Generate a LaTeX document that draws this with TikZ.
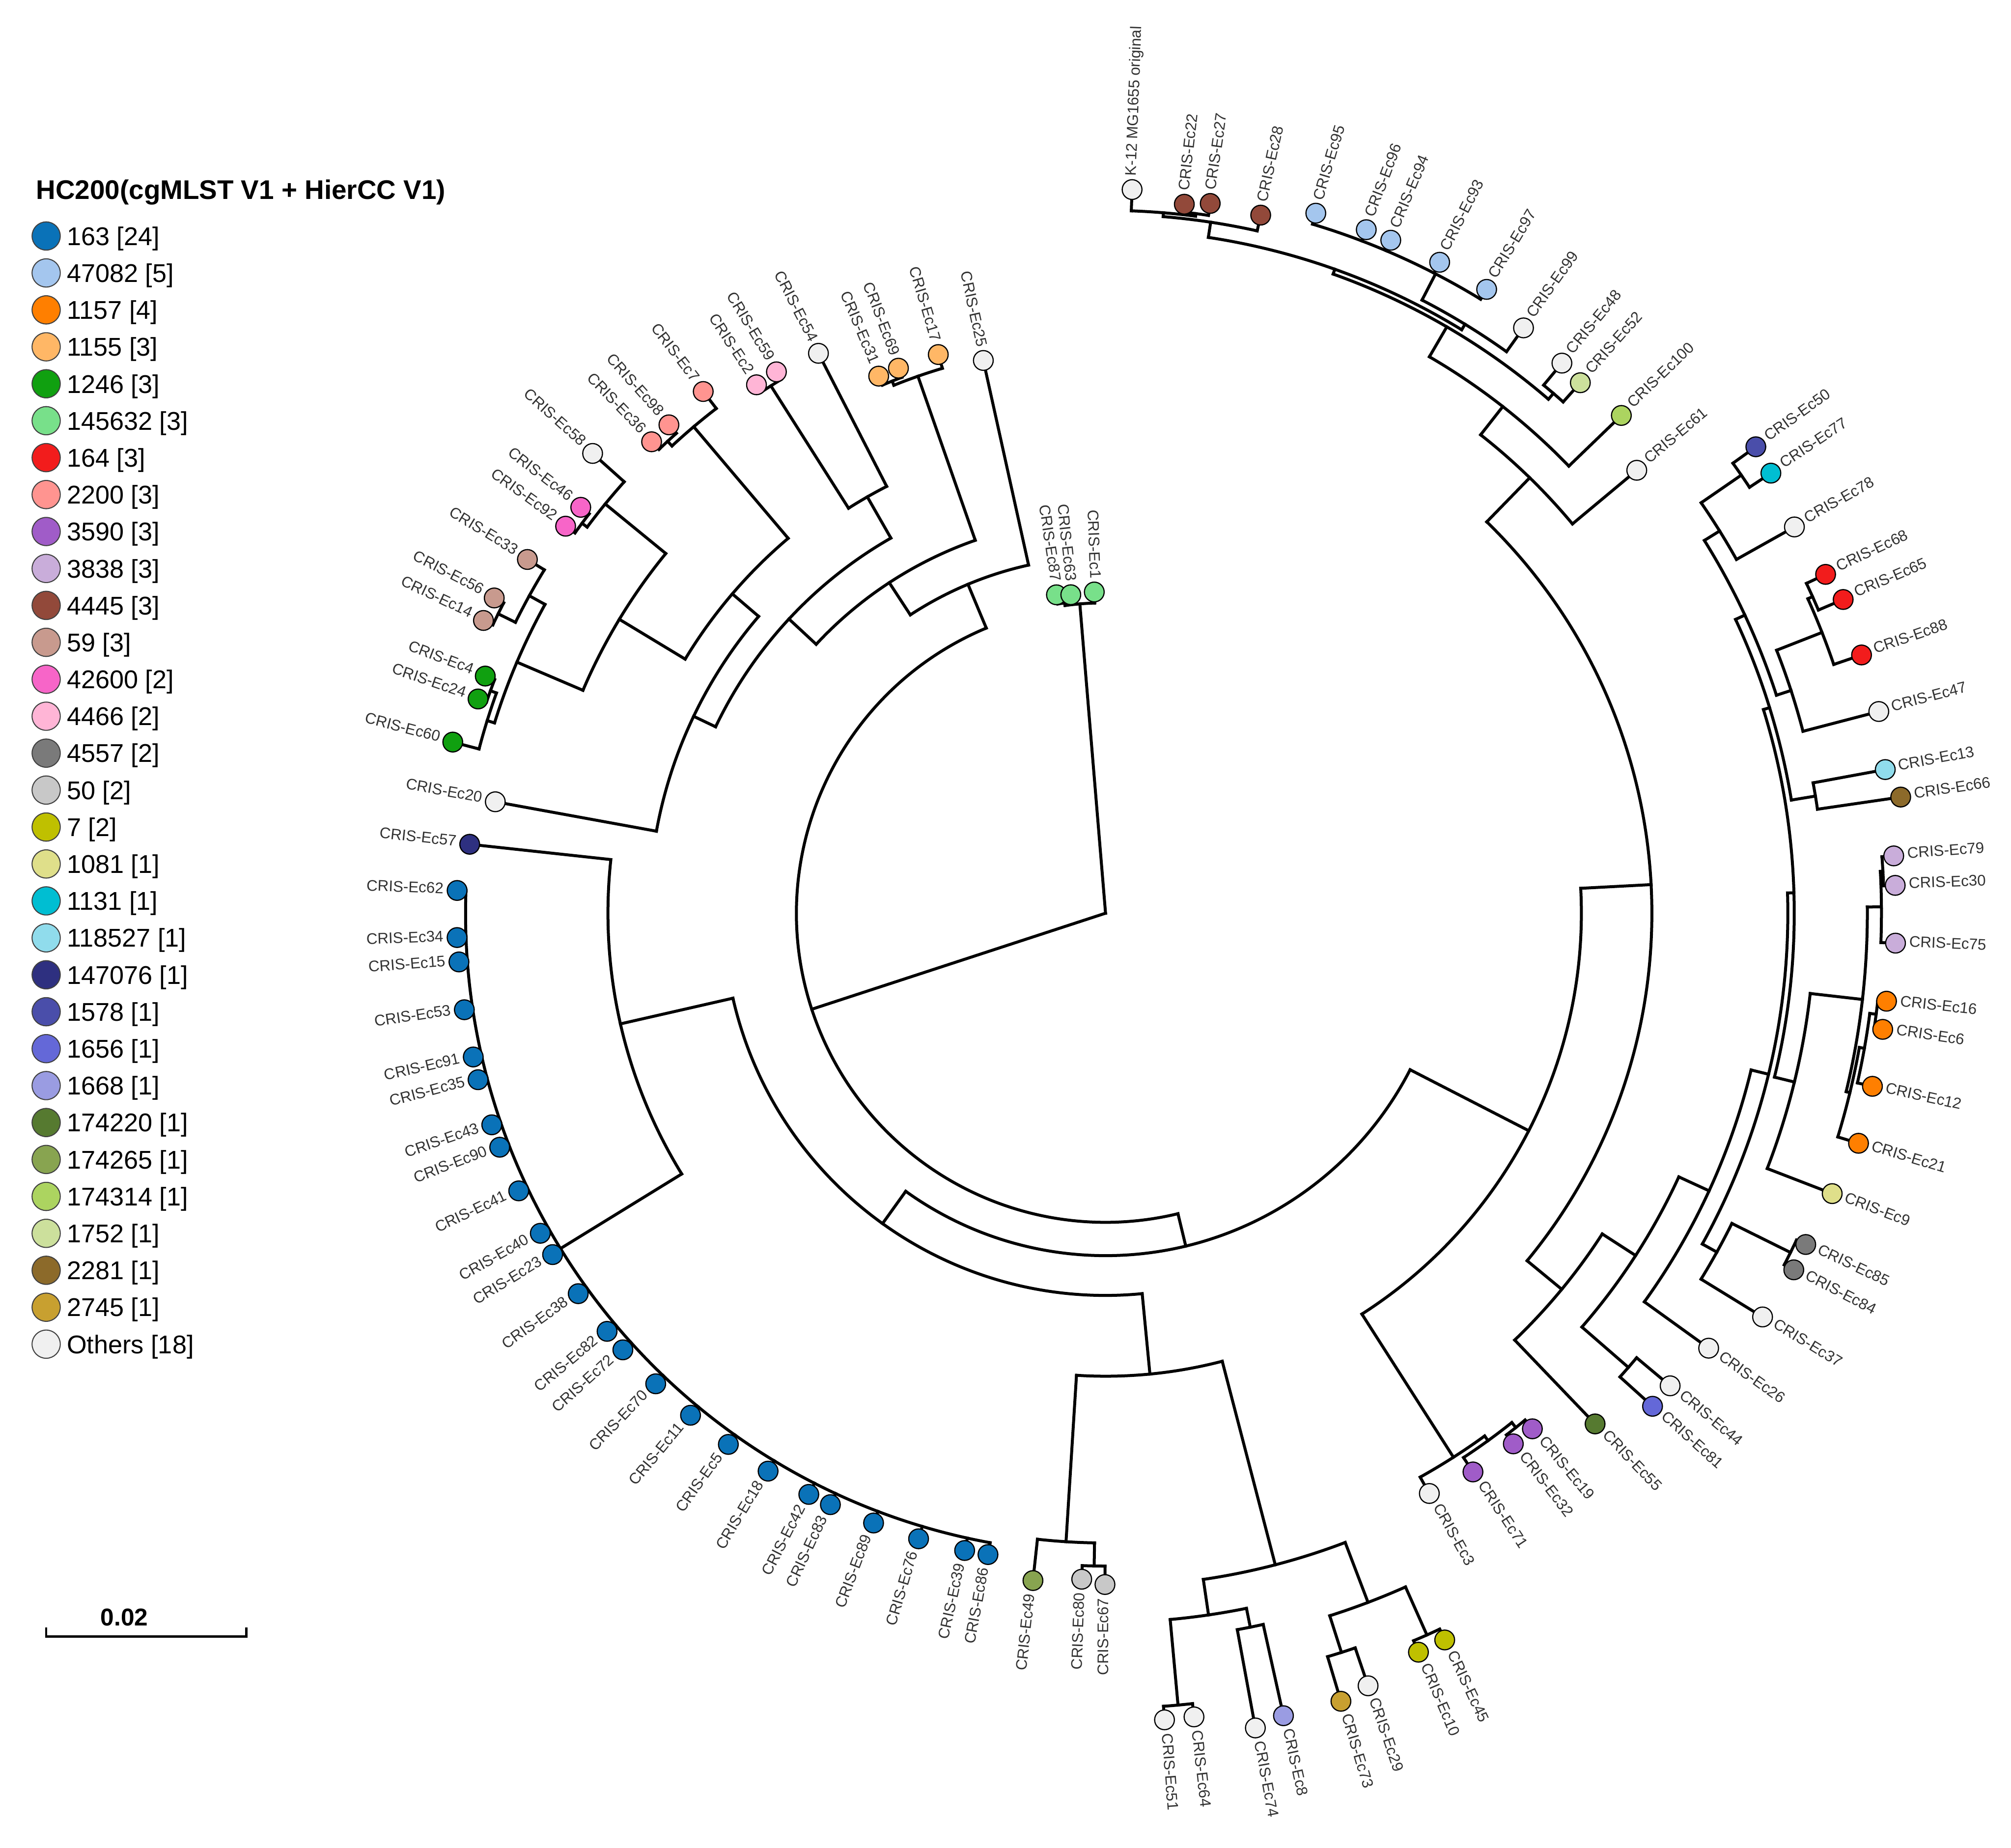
\documentclass[tikz,border=0pt]{standalone}
\usepackage{fontspec}
\setmainfont{Liberation Sans}
\pgfdeclarelayer{fg}
\pgfsetlayers{main,fg}
\definecolor{c163}{HTML}{0A72B8}
\definecolor{c47082}{HTML}{A4C6EE}
\definecolor{c1157}{HTML}{FF7F00}
\definecolor{c1155}{HTML}{FFB766}
\definecolor{c1246}{HTML}{10A010}
\definecolor{c145632}{HTML}{78E08A}
\definecolor{c164}{HTML}{F21C1C}
\definecolor{c2200}{HTML}{FF9490}
\definecolor{c3590}{HTML}{A05CC8}
\definecolor{c3838}{HTML}{C9ADDA}
\definecolor{c4445}{HTML}{92493A}
\definecolor{c59}{HTML}{C89A8E}
\definecolor{c42600}{HTML}{F765C8}
\definecolor{c4466}{HTML}{FFB5D6}
\definecolor{c4557}{HTML}{7A7A7A}
\definecolor{c50}{HTML}{C8C8C8}
\definecolor{c7}{HTML}{BFC000}
\definecolor{c1081}{HTML}{DFDF8A}
\definecolor{c1131}{HTML}{00BED2}
\definecolor{c118527}{HTML}{90DCEC}
\definecolor{c147076}{HTML}{2E3080}
\definecolor{c1578}{HTML}{4A4EAA}
\definecolor{c1656}{HTML}{6468D8}
\definecolor{c1668}{HTML}{9A9CE2}
\definecolor{c174220}{HTML}{567A30}
\definecolor{c174265}{HTML}{88A450}
\definecolor{c174314}{HTML}{ACD460}
\definecolor{c1752}{HTML}{CCE09C}
\definecolor{c2281}{HTML}{8C6A2A}
\definecolor{c2745}{HTML}{C8A030}
\definecolor{cOth}{HTML}{F0F0F0}
\definecolor{labc}{RGB}{50,50,50}
\tikzset{
  br/.style={line width=2.3pt, line cap=rect},
  leaf/.style={circle, draw=black, line width=0.9pt, minimum size=15.4pt, inner sep=0pt},
  lab/.style={font=\fontsize{12}{12}\selectfont, text=labc, inner sep=0pt},
  legc/.style={circle, draw={black!75}, line width=0.8pt, minimum size=22pt, inner sep=0pt},
  legt/.style={font=\fontsize{20}{20}\selectfont, anchor=base west, inner sep=0pt},
}
% internal node: name, angle, r parent, r, arc from, arc to
\newcommand\TNode[6]{%
  \coordinate (#1) at (#2:#4);
  \draw[br] (#2:#3) -- (#1);
  \draw[br] (#5:#4) arc[start angle=#5, end angle=#6, radius=#4pt];}
% leaf: name, angle, r parent, r leaf, colour, text
\newcommand\TLeaf[6]{%
  \begin{pgfonlayer}{fg}\node[leaf,fill=#5] (#1) at (#2:#4) {};\end{pgfonlayer}
  \draw[br] (#2:#3) -- (#1.center);
  \pgfmathtruncatemacro\rside{cos(#2)>0}%
  \pgfmathsetmacro\lrad{#4+10.5}%
  \ifnum\rside=1
    \node[lab,rotate=#2,anchor=mid west] (#1-t) at (#2:\lrad) {#6};
  \else
    \pgfmathsetmacro\lrot{#2+180}%
    \node[lab,rotate=\lrot,anchor=mid east] (#1-t) at (#2:\lrad) {#6};
  \fi}
\begin{document}
\begin{tikzpicture}[x=1pt,y=1pt]
\useasboundingbox (0,0) rectangle (1568,-1440.8);
% ---------------- legend ----------------
\node[anchor=west,inner sep=0pt,font=\bfseries\fontsize{21}{21}\selectfont] (title) at (28,-150) {HC200(cgMLST V1 + HierCC V1)};
\foreach \c/\t [count=\i from 0] in {c163/{163 [24]},c47082/{47082 [5]},c1157/{1157 [4]},c1155/{1155 [3]},c1246/{1246 [3]},c145632/{145632 [3]},c164/{164 [3]},c2200/{2200 [3]},c3590/{3590 [3]},c3838/{3838 [3]},c4445/{4445 [3]},c59/{59 [3]},c42600/{42600 [2]},c4466/{4466 [2]},c4557/{4557 [2]},c50/{50 [2]},c7/{7 [2]},c1081/{1081 [1]},c1131/{1131 [1]},c118527/{118527 [1]},c147076/{147076 [1]},c1578/{1578 [1]},c1656/{1656 [1]},c1668/{1668 [1]},c174220/{174220 [1]},c174265/{174265 [1]},c174314/{174314 [1]},c1752/{1752 [1]},c2281/{2281 [1]},c2745/{2745 [1]},cOth/{Others [18]}}{
  \node[legc,fill=\c] (lg\i) at (36,{-184-28.8*\i}) {};
  \node[legt] (lt\i) at (52,{-191.2-28.8*\i}) {\t};
}
% scale bar
\draw[line width=1.8pt] (36,-1269) -- (36,-1276) -- (192,-1276) -- (192,-1269);
\node[inner sep=0pt,font=\bfseries\fontsize{19}{19}\selectfont] (sbar) at (97,-1261) {0.02};
% ---------------- tree ----------------
\begin{scope}[shift={(862,-712)}]
\coordinate (root) at (0,0);
\TNode{A}{94.75}{0}{242}{92.01}{97.50}
\TNode{PA}{97.50}{242}{244}{96.23}{98.77}
\TNode{B}{198.1}{0}{241}{112.7}{283.55}
\TNode{Ntop}{112.7}{241}{278}{102.47}{123.2}
\TNode{Nx}{123.2}{278}{308}{109.26}{137.1}
\TNode{G1155}{109.26}{308}{443.5}{106.67}{111.85}
\TNode{P3169}{111.85}{443.5}{447}{110.81}{112.90}
\TNode{Ny}{137.1}{308}{337}{119.78}{154.45}
\TNode{Nw}{119.78}{337}{374}{117.15}{122.4}
\TNode{P259}{122.4}{374}{487}{121.30}{123.45}
\TNode{Nz}{154.45}{337}{356}{139.45}{169.65}
\TNode{Nv}{139.45}{356}{383}{130.25}{148.85}
\TNode{Salm}{130.25}{383}{497}{127.64}{132.86}
\TNode{P3698}{132.86}{497}{502}{131.80}{133.92}
\TNode{Nu}{148.85}{383}{443}{140.72}{156.9}
\TNode{N58p}{140.72}{443}{504}{138.13}{143.32}
\TNode{P9246}{143.32}{504}{509}{142.28}{144.37}
\TNode{Nt}{156.9}{443}{499}{151.15}{162.7}
\TNode{Tan}{151.15}{499}{513}{148.54}{153.76}
\TNode{P1456}{153.76}{513}{528}{152.72}{154.80}
\TNode{Grn}{162.7}{499}{505}{160.12}{165.31}
\TNode{P244}{160.12}{505}{510}{159.08}{161.15}
\TNode{Nbig}{283.55}{241}{267}{234.3}{332.8}
\TNode{NL}{234.3}{267}{298}{192.85}{275.5}
\TNode{NK}{192.85}{298}{388}{174.1}{211.6}
\TNode{Blue}{211.6}{388}{499}{177.99}{259.61}
\TNode{Nbot}{275.5}{298}{361}{266.4}{284.6}
\TNode{G50}{266.4}{361}{491}{263.79}{269.0}
\TNode{P8067}{269.0}{491}{509}{267.95}{269.95}
\TNode{Nb2}{284.6}{361}{525}{278.35}{290.85}
\TNode{Nb3}{278.35}{525}{553}{275.23}{281.46}
\TNode{P5164}{275.23}{553}{620}{274.18}{276.28}
\TNode{P748}{281.46}{553}{568}{280.42}{282.50}
\TNode{Nb4}{290.85}{525}{575}{287.7}{294.0}
\TNode{P7329}{287.7}{575}{605}{286.63}{288.77}
\TNode{P4510}{294.0}{575}{616}{292.95}{295.02}
\TNode{NR}{-27.2}{267}{371}{-57.4}{3.0}
\TNode{Npurp}{-57.4}{371}{503.5}{-60.84}{-54.05}
\TNode{Purp}{-54.05}{503.5}{508}{-56.67}{-51.42}
\TNode{P1932}{-51.42}{508}{513}{-52.46}{-50.38}
\TNode{Nup}{3.0}{371}{426}{-39.5}{45.75}
\TNode{Nlr}{-39.5}{426}{461}{-46.21}{-32.85}
\TNode{Nq}{-32.85}{461}{492}{-40.98}{-24.7}
\TNode{P4481}{-40.98}{492}{540}{-42.03}{-39.93}
\TNode{Nb}{-24.7}{492}{518}{-35.80}{-13.65}
\TNode{Nc}{-13.65}{518}{532}{-29.0}{1.7}
\TNode{Np}{-29.0}{532}{545}{-31.57}{-26.35}
\TNode{P8584}{-26.35}{545}{596}{-27.39}{-25.32}
\TNode{Nd}{1.7}{532}{537}{-13.77}{17.2}
\TNode{Ncp}{-13.77}{537}{553}{-21.10}{-6.5}
\TNode{Nlo}{-6.5}{553}{594}{-13.55}{0.47}
\TNode{O}{-13.55}{594}{597}{-16.99}{-10.1}
\TNode{O2}{-10.1}{597}{601}{-12.72}{-7.47}
\TNode{P166}{-7.47}{601}{606}{-8.50}{-6.43}
\TNode{Lil}{0.47}{594}{605}{-2.17}{3.09}
\TNode{P7930}{3.09}{605}{607}{2.02}{4.16}
\TNode{Ne}{17.2}{537}{542}{9.37}{25.0}
\TNode{P1366}{9.37}{542}{561}{8.31}{10.44}
\TNode{Nf}{25.0}{542}{550}{18.0}{31.9}
\TNode{Nj}{18.0}{550}{562}{14.62}{21.4}
\TNode{Red}{21.4}{562}{600}{18.86}{24.12}
\TNode{P6865}{24.12}{600}{604}{23.04}{25.20}
\TNode{Ng}{31.9}{550}{564}{29.28}{34.57}
\TNode{P5077}{34.57}{564}{602}{33.48}{35.65}
\TNode{Nur}{45.75}{426}{474}{39.82}{51.9}
\TNode{Ns}{51.9}{474}{502}{43.98}{59.8}
\TNode{Nr}{59.8}{502}{529}{49.25}{70.4}
\TNode{P4852}{49.25}{529}{535}{48.17}{50.32}
\TNode{Nrp}{70.4}{529}{533}{58.6}{81.35}
\TNode{Nm}{58.6}{533}{538}{54.47}{62.7}
\TNode{G47}{62.7}{538}{561}{58.58}{73.28}
\TNode{Nk}{81.35}{533}{545}{77.47}{85.27}
\TNode{X}{85.27}{545}{548}{82.64}{87.90}
\TNode{BP}{82.64}{548}{550}{81.61}{83.66}
% leaves
\TLeaf{k12}{87.90}{548}{564.6}{cOth}{K-12 MG1655 original}
\TLeaf{ec22}{83.66}{550}{556.2}{c4445}{CRIS-Ec22}
\TLeaf{ec27}{81.61}{550}{559.4}{c4445}{CRIS-Ec27}
\TLeaf{ec28}{77.47}{545}{557.6}{c4445}{CRIS-Ec28}
\TLeaf{ec95}{73.28}{561}{569.9}{c47082}{CRIS-Ec95}
\TLeaf{ec96}{69.12}{561}{570.4}{c47082}{CRIS-Ec96}
\TLeaf{ec94}{67.03}{561}{569.9}{c47082}{CRIS-Ec94}
\TLeaf{ec93}{62.83}{561}{570.5}{c47082}{CRIS-Ec93}
\TLeaf{ec97}{58.58}{561}{570.0}{c47082}{CRIS-Ec97}
\TLeaf{ec99}{54.47}{538}{560.8}{cOth}{CRIS-Ec99}
\TLeaf{ec48}{50.32}{535}{557.3}{cOth}{CRIS-Ec48}
\TLeaf{ec52}{48.17}{535}{555.1}{c1752}{CRIS-Ec52}
\TLeaf{ec100}{43.98}{502}{558.9}{c174314}{CRIS-Ec100}
\TLeaf{ec61}{39.82}{474}{539.3}{cOth}{CRIS-Ec61}
\TLeaf{ec50}{35.65}{602}{624.0}{c1578}{CRIS-Ec50}
\TLeaf{ec77}{33.48}{602}{622.0}{c1131}{CRIS-Ec77}
\TLeaf{ec78}{29.28}{564}{615.8}{cOth}{CRIS-Ec78}
\TLeaf{ec68}{25.20}{604}{620.5}{c164}{CRIS-Ec68}
\TLeaf{ec65}{23.04}{604}{625.0}{c164}{CRIS-Ec65}
\TLeaf{ec88}{18.86}{600}{622.9}{c164}{CRIS-Ec88}
\TLeaf{ec47}{14.62}{562}{623.1}{cOth}{CRIS-Ec47}
\TLeaf{ec13}{10.44}{561}{618.2}{c118527}{CRIS-Ec13}
\TLeaf{ec66}{8.31}{561}{626.6}{c2281}{CRIS-Ec66}
\TLeaf{ec79}{4.16}{607}{616.2}{c3838}{CRIS-Ec79}
\TLeaf{ec30}{2.02}{607}{616.1}{c3838}{CRIS-Ec30}
\TLeaf{ec75}{-2.17}{605}{616.4}{c3838}{CRIS-Ec75}
\TLeaf{ec16}{-6.43}{606}{612.8}{c1157}{CRIS-Ec16}
\TLeaf{ec6}{-8.50}{606}{612.7}{c1157}{CRIS-Ec6}
\TLeaf{ec12}{-12.72}{601}{613.0}{c1157}{CRIS-Ec12}
\TLeaf{ec21}{-16.99}{597}{613.9}{c1157}{CRIS-Ec21}
\TLeaf{ec9}{-21.10}{553}{607.3}{c1081}{CRIS-Ec9}
\TLeaf{ec85}{-25.32}{596}{604.0}{c4557}{CRIS-Ec85}
\TLeaf{ec84}{-27.39}{596}{604.4}{c4557}{CRIS-Ec84}
\TLeaf{ec37}{-31.57}{545}{601.3}{cOth}{CRIS-Ec37}
\TLeaf{ec26}{-35.80}{518}{579.8}{cOth}{CRIS-Ec26}
\TLeaf{ec44}{-39.93}{540}{574.1}{cOth}{CRIS-Ec44}
\TLeaf{ec81}{-42.03}{540}{574.2}{c1656}{CRIS-Ec81}
\TLeaf{ec55}{-46.21}{461}{551.6}{c174220}{CRIS-Ec55}
\TLeaf{ec19}{-50.38}{513}{521.9}{c3590}{CRIS-Ec19}
\TLeaf{ec32}{-52.46}{513}{521.8}{c3590}{CRIS-Ec32}
\TLeaf{ec71}{-56.67}{508}{521.4}{c3590}{CRIS-Ec71}
\TLeaf{ec3}{-60.84}{503.5}{518.1}{cOth}{CRIS-Ec3}
\TLeaf{ec45}{-64.98}{616}{625.3}{c7}{CRIS-Ec45}
\TLeaf{ec10}{-67.05}{616}{625.7}{c7}{CRIS-Ec10}
\TLeaf{ec29}{-71.23}{605}{636.2}{cOth}{CRIS-Ec29}
\TLeaf{ec73}{-73.37}{605}{641.3}{c2745}{CRIS-Ec73}
\TLeaf{ec8}{-77.50}{568}{640.9}{c1668}{CRIS-Ec8}
\TLeaf{ec74}{-79.58}{568}{645.9}{cOth}{CRIS-Ec74}
\TLeaf{ec64}{-83.72}{620}{630.4}{cOth}{CRIS-Ec64}
\TLeaf{ec51}{-85.82}{620}{630.6}{cOth}{CRIS-Ec51}
\TLeaf{ec67}{-90.05}{509}{523.4}{c50}{CRIS-Ec67}
\TLeaf{ec80}{-92.05}{509}{519.6}{c50}{CRIS-Ec80}
\TLeaf{ec49}{-96.21}{491}{523.4}{c174265}{CRIS-Ec49}
\TLeaf{ec86}{259.61}{499}{508.4}{c163}{CRIS-Ec86}
\TLeaf{ec39}{257.53}{499}{508.9}{c163}{CRIS-Ec39}
\TLeaf{ec76}{253.36}{499}{509.1}{c163}{CRIS-Ec76}
\TLeaf{ec89}{249.17}{499}{508.7}{c163}{CRIS-Ec89}
\TLeaf{ec83}{245.05}{499}{508.6}{c163}{CRIS-Ec83}
\TLeaf{ec42}{242.95}{499}{508.8}{c163}{CRIS-Ec42}
\TLeaf{ec18}{238.83}{499}{508.4}{c163}{CRIS-Ec18}
\TLeaf{ec5}{234.62}{499}{508.0}{c163}{CRIS-Ec5}
\TLeaf{ec11}{230.42}{499}{507.9}{c163}{CRIS-Ec11}
\TLeaf{ec70}{226.29}{499}{507.6}{c163}{CRIS-Ec70}
\TLeaf{ec72}{222.13}{499}{507.5}{c163}{CRIS-Ec72}
\TLeaf{ec82}{219.99}{499}{507.3}{c163}{CRIS-Ec82}
\TLeaf{ec38}{215.81}{499}{507.0}{c163}{CRIS-Ec38}
\TLeaf{ec23}{211.69}{499}{506.7}{c163}{CRIS-Ec23}
\TLeaf{ec40}{209.52}{499}{506.5}{c163}{CRIS-Ec40}
\TLeaf{ec41}{205.32}{499}{506.2}{c163}{CRIS-Ec41}
\TLeaf{ec90}{201.12}{499}{506.4}{c163}{CRIS-Ec90}
\TLeaf{ec43}{199.02}{499}{506.2}{c163}{CRIS-Ec43}
\TLeaf{ec35}{194.86}{499}{506.2}{c163}{CRIS-Ec35}
\TLeaf{ec91}{192.81}{499}{505.6}{c163}{CRIS-Ec91}
\TLeaf{ec53}{188.56}{499}{505.6}{c163}{CRIS-Ec53}
\TLeaf{ec15}{184.31}{499}{505.6}{c163}{CRIS-Ec15}
\TLeaf{ec34}{182.15}{499}{506.0}{c163}{CRIS-Ec34}
\TLeaf{ec62}{177.99}{499}{505.9}{c163}{CRIS-Ec62}
\TLeaf{ec57}{173.81}{388}{498.7}{c147076}{CRIS-Ec57}
\TLeaf{ec20}{169.65}{356}{483.7}{cOth}{CRIS-Ec20}
\TLeaf{ec60}{165.31}{505}{526.2}{c1246}{CRIS-Ec60}
\TLeaf{ec24}{161.15}{510}{517.0}{c1246}{CRIS-Ec24}
\TLeaf{ec4}{159.08}{510}{517.8}{c1246}{CRIS-Ec4}
\TLeaf{ec14}{154.80}{528}{536.1}{c59}{CRIS-Ec14}
\TLeaf{ec56}{152.72}{528}{536.3}{c59}{CRIS-Ec56}
\TLeaf{ec33}{148.54}{513}{528.5}{c59}{CRIS-Ec33}
\TLeaf{ec92}{144.37}{509}{518.0}{c42600}{CRIS-Ec92}
\TLeaf{ec46}{142.28}{509}{517.3}{c42600}{CRIS-Ec46}
\TLeaf{ec58}{138.13}{504}{537.1}{cOth}{CRIS-Ec58}
\TLeaf{ec36}{133.92}{502}{510.3}{c2200}{CRIS-Ec36}
\TLeaf{ec98}{131.80}{502}{510.8}{c2200}{CRIS-Ec98}
\TLeaf{ec7}{127.64}{497}{513.7}{c2200}{CRIS-Ec7}
\TLeaf{ec2}{123.45}{487}{493.8}{c4466}{CRIS-Ec2}
\TLeaf{ec59}{121.30}{487}{494.0}{c4466}{CRIS-Ec59}
\TLeaf{ec54}{117.15}{374}{490.6}{cOth}{CRIS-Ec54}
\TLeaf{ec31}{112.90}{447}{454.6}{c1155}{CRIS-Ec31}
\TLeaf{ec69}{110.81}{447}{454.6}{c1155}{CRIS-Ec69}
\TLeaf{ec17}{106.67}{443.5}{454.7}{c1155}{CRIS-Ec17}
\TLeaf{ec25}{102.47}{278}{441.4}{cOth}{CRIS-Ec25}
\TLeaf{ec87}{98.77}{244}{251.2}{c145632}{CRIS-Ec87}
\TLeaf{ec63}{96.23}{244}{249.8}{c145632}{CRIS-Ec63}
\TLeaf{ec1}{92.01}{242}{250.6}{c145632}{CRIS-Ec1}
\end{scope}
\end{tikzpicture}
\end{document}
